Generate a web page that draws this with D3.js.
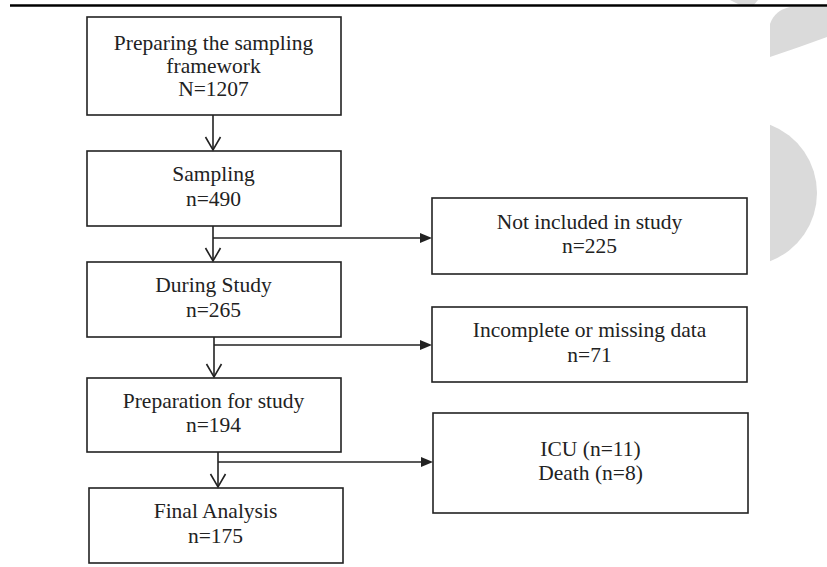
<!DOCTYPE html>
<html>
<head>
<meta charset="utf-8">
<script src="https://cdn.jsdelivr.net/npm/d3@7/dist/d3.min.js"></script>
<style>
  html, body { margin: 0; padding: 0; background: #fff; }
  svg { display: block; }
</style>
</head>
<body>
<svg id="chart" width="827" height="567"></svg>
<script>
// ---- data ----
const stepNames = [["Preparing the sampling", "framework"], ["Sampling"], ["During Study"], ["Preparation for study"], ["Final Analysis"]];
const stepPrefix = ["N", "n", "n", "n", "n"];
const stepCounts = [1207, 490, 265, 194, 175];
const exclNames = [["Not included in study"], ["Incomplete or missing data"], ["ICU", "Death"]];
const exclCounts = [[225], [71], [11, 8]];

// ---- layout ----
const stepX = [87, 87, 87, 87, 89];
const stepTop = [17, 151, 262, 378, 488];
const stepBottom = [115, 226, 337, 452, 563];
const stepW = 254;
const exclX = [432, 432, 433];
const exclTop = [198, 307, 413];
const exclBottom = [274, 382, 513];
const exclW = 315;
const branchX = [213, 214, 218];
const branchY = [238, 345, 462];
const trunkX = [213, 213, 214, 218];

const svg = d3.select("#chart");
const ink = "#222";
const font = "'Liberation Serif', 'Times New Roman', serif";
const fs = 21.5;

// watermark shapes
const wm = svg.append("g").attr("fill", "#dadada");
wm.append("path").attr("d", "M730,0 L758,0 L753,6 L742,6 Z");
wm.append("path").attr("d", "M790,7 L827,7 L827,37 Q800,47 770,57 L770,24 Q775,10 790,7 Z");
{
  const p = d3.path();
  const cx = 744, cy = 193, r = 73;
  const a = Math.acos((770 - cx) / r);
  p.moveTo(770, cy - Math.sqrt(r * r - 26 * 26));
  p.arc(cx, cy, r, -a, a, false);
  p.closePath();
  wm.append("path").attr("d", p.toString());
}

// top rule
svg.append("line").attr("x1", 10).attr("x2", 827).attr("y1", 5.5).attr("y2", 5.5)
  .attr("stroke", "#000").attr("stroke-width", 2.6);

function textBlock(cx, top, bottom, lines) {
  const n = lines.length;
  const lh = n > 2 ? 23 : 24.5;
  const off = n > 2 ? 7 : 5;
  const cy = (top + bottom) / 2 + off;
  svg.append("g").selectAll("text").data(lines).join("text")
    .attr("x", cx)
    .attr("y", (d, i) => cy + (i - (n - 1) / 2) * lh)
    .attr("text-anchor", "middle")
    .attr("font-family", font)
    .attr("font-size", fs)
    .attr("fill", ink)
    .text(d => d);
}

// main boxes
const stepData = stepNames.map((nm, i) => ({
  lines: nm.concat([stepPrefix[i] + "=" + stepCounts[i]]),
  x: stepX[i], top: stepTop[i], bottom: stepBottom[i]
}));
svg.append("g").selectAll("rect").data(stepData).join("rect")
  .attr("x", d => d.x).attr("y", d => d.top)
  .attr("width", stepW).attr("height", d => d.bottom - d.top)
  .attr("fill", "#fff").attr("stroke", ink).attr("stroke-width", 1.6);
stepData.forEach(d => textBlock(d.x + stepW / 2 - 0.5, d.top, d.bottom, d.lines));

// exclusion boxes
const exclData = exclNames.map((nm, i) => ({
  lines: nm.length === 1 ? [nm[0], "n=" + exclCounts[i][0]] : nm.map((s, j) => s + " (n=" + exclCounts[i][j] + ")"),
  x: exclX[i], top: exclTop[i], bottom: exclBottom[i]
}));
svg.append("g").selectAll("rect").data(exclData).join("rect")
  .attr("x", d => d.x).attr("y", d => d.top)
  .attr("width", exclW).attr("height", d => d.bottom - d.top)
  .attr("fill", "#fff").attr("stroke", ink).attr("stroke-width", 1.6);
exclData.forEach(d => textBlock(d.x + exclW / 2, d.top, d.bottom, d.lines));

// vertical connectors with open V heads
const conn = svg.append("g").attr("stroke", ink).attr("stroke-width", 1.6).attr("fill", "none");
for (let i = 0; i < stepData.length - 1; i++) {
  const x = trunkX[i];
  const y1 = stepBottom[i], y2 = stepTop[i + 1];
  conn.append("line").attr("x1", x).attr("x2", x).attr("y1", y1).attr("y2", y2 - 1);
  conn.append("path").attr("d", `M${x - 7.5},${y2 - 14} L${x},${y2 - 1} L${x + 7.5},${y2 - 14}`);
}
// branches with filled heads
for (let i = 0; i < exclData.length; i++) {
  const y = branchY[i], x1 = branchX[i], x2 = exclX[i];
  conn.append("line").attr("x1", x1).attr("x2", x2 - 10).attr("y1", y).attr("y2", y);
  svg.append("path").attr("d", `M${x2 - 12},${y - 5} L${x2},${y} L${x2 - 12},${y + 5} Z`).attr("fill", ink);
}
</script>
</body>
</html>
